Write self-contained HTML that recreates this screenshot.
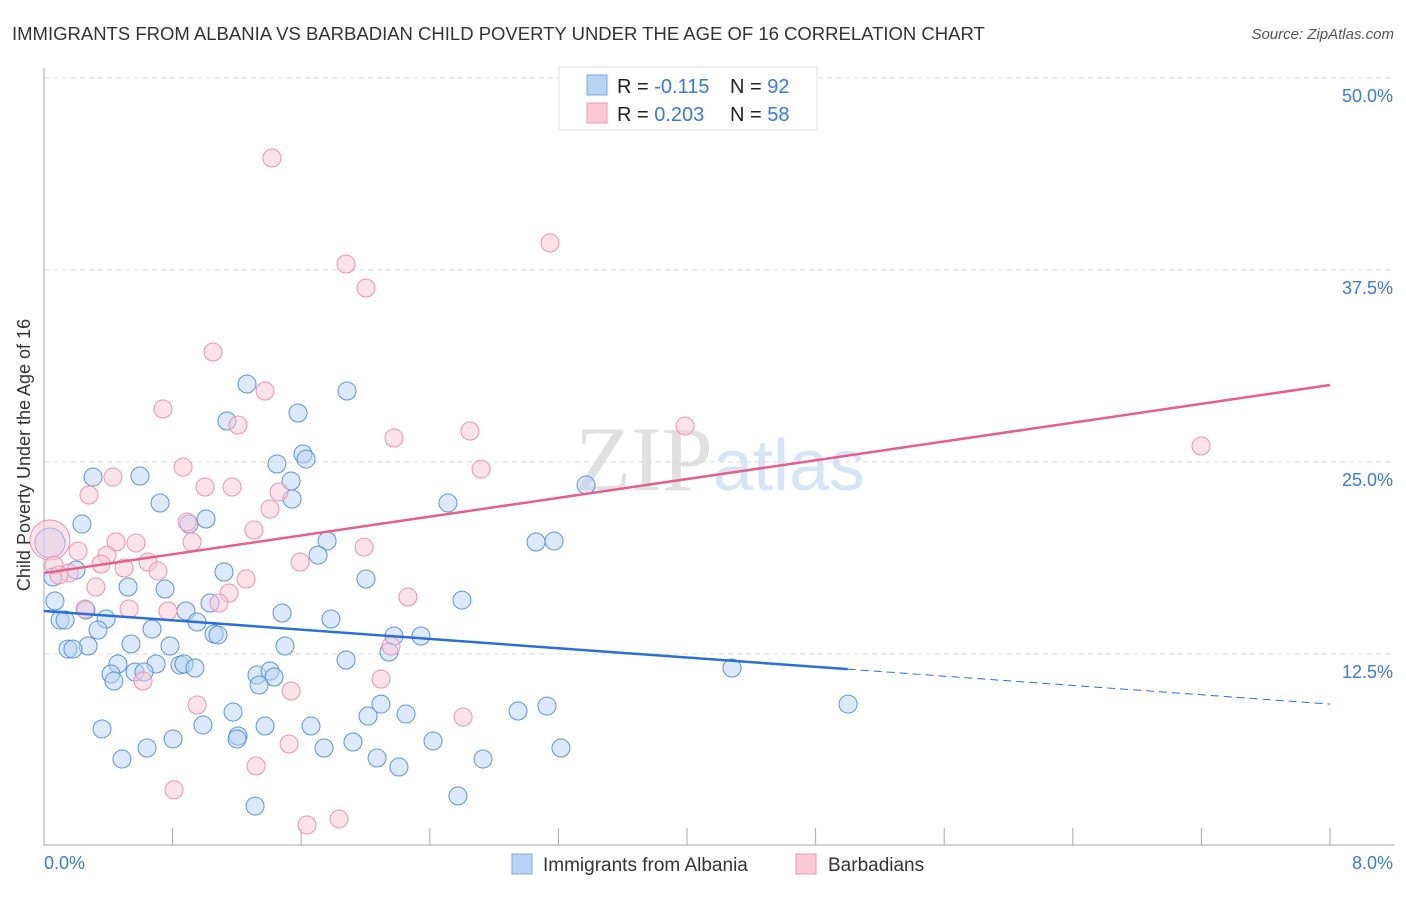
<!DOCTYPE html>
<html><head><meta charset="utf-8"><style>
body{margin:0;background:#fff;font-family:"Liberation Sans",sans-serif;}
svg text{font-family:"Liberation Sans",sans-serif;}
</style></head><body>
<svg id="chart" width="1406" height="892" xmlns="http://www.w3.org/2000/svg">
<text x="12" y="40" font-size="18.5" fill="#333">IMMIGRANTS FROM ALBANIA VS BARBADIAN CHILD POVERTY UNDER THE AGE OF 16 CORRELATION CHART</text>
<text x="1394" y="39" font-size="15" fill="#555" font-style="italic" text-anchor="end">Source: ZipAtlas.com</text>
<text x="720" y="490" font-size="92" fill="#e4e4e4" text-anchor="middle" font-family="Liberation Serif"><tspan font-family="Liberation Serif" fill="#e0e0e0">ZIP</tspan><tspan font-family="Liberation Sans" font-size="72" fill="#d6e4f5">atlas</tspan></text>
<g id="grid"></g>
<g id="axes"></g>
<g id="pts"></g>
<g id="trends"></g>
<text x="30" y="455" font-size="18" fill="#333" text-anchor="middle" transform="rotate(-90 30 455)">Child Poverty Under the Age of 16</text>
<text x="44" y="869" font-size="18" fill="#3b78d8">0.0%</text>
<text x="1393" y="869" font-size="18" fill="#3b78d8" text-anchor="end">8.0%</text>
<g>
<rect x="559" y="67" width="258" height="63" fill="#fff" stroke="#ddd"/>
<rect x="587" y="75" width="20" height="20" fill="#b9d3f5" stroke="#7fa9e3"/>
<rect x="587" y="103" width="20" height="20" fill="#fac8d6" stroke="#ee9ab3"/>
<text x="617" y="93" font-size="20" fill="#222">R = <tspan fill="#3b78d8">-0.115</tspan></text>
<text x="730" y="93" font-size="20" fill="#222">N = <tspan fill="#3b78d8">92</tspan></text>
<text x="617" y="121" font-size="20" fill="#222">R = <tspan fill="#3b78d8">0.203</tspan></text>
<text x="730" y="121" font-size="20" fill="#222">N = <tspan fill="#3b78d8">58</tspan></text>
</g>
<g>
<rect x="512" y="854" width="20" height="20" fill="#b9d3f5" stroke="#7fa9e3"/>
<text x="543" y="871" font-size="19" fill="#333">Immigrants from Albania</text>
<rect x="796" y="854" width="20" height="20" fill="#fac8d6" stroke="#ee9ab3"/>
<text x="828" y="871" font-size="19" fill="#333">Barbadians</text>
</g>
</svg>
<script>
const yTicks=[12.5,25,37.5,50];
const yTickLabels=["12.5%","25.0%","37.5%","50.0%"];
const xTicks=[0,0.8,1.6,2.4,3.2,4.0,4.8,5.6,6.4,7.2,8.0];
const blueX=[1.263,1.885,1.580,1.138,1.611,1.630,1.449,0.305,0.597,1.537,1.543,0.722,2.513,3.372,1.008,0.902,0.236,1.761,3.061,3.173,0.037,1.705,1.120,2.003,0.056,0.199,0.523,0.753,1.033,2.600,0.068,0.883,1.481,0.261,1.785,0.386,0.100,0.131,0.952,0.672,0.336,1.058,1.082,2.177,2.345,0.541,0.784,1.499,0.274,0.149,0.180,2.146,1.879,0.460,0.697,0.846,0.871,0.939,0.417,0.566,0.622,1.325,1.406,1.431,0.435,1.338,4.280,5.002,3.129,2.949,1.176,2.252,2.096,2.016,1.661,1.375,0.989,0.361,0.803,1.207,1.201,1.922,2.420,1.742,0.641,3.216,0.485,2.072,2.731,2.208,1.313,2.575];
const blueY=[30.08,29.62,28.19,27.67,25.52,25.19,24.87,24.02,24.09,23.76,22.59,22.33,22.33,23.50,21.29,20.96,20.96,19.86,19.79,19.86,19.73,18.94,17.84,17.38,17.51,17.97,16.86,16.73,15.82,16.01,15.95,15.30,15.17,15.36,14.78,14.78,14.71,14.71,14.58,14.13,14.06,13.80,13.74,13.67,13.67,13.15,13.02,13.02,13.02,12.82,12.82,12.63,12.11,11.85,11.85,11.78,11.85,11.59,11.20,11.33,11.33,11.13,11.39,11.00,10.74,10.48,11.59,9.24,9.11,8.79,8.72,8.59,9.24,8.46,7.81,7.81,7.88,7.62,6.97,7.16,6.97,6.77,6.84,6.38,6.38,6.38,5.66,5.73,5.66,5.14,2.60,3.26];
const pinkX=[1.418,3.148,1.879,2.003,1.051,1.375,0.740,1.207,2.177,2.650,3.988,7.198,0.865,0.429,2.719,0.280,1.002,1.170,1.462,1.406,0.890,1.306,0.921,0.448,0.572,0.037,0.212,0.392,1.991,1.593,0.647,0.062,0.355,0.498,0.709,1.257,0.156,0.093,0.323,1.151,2.264,1.089,0.255,0.529,0.771,2.159,2.096,0.616,1.537,0.952,2.607,1.524,1.319,0.809,1.835,1.636];
const pinkY=[44.79,39.26,37.89,36.33,32.16,29.62,28.45,27.41,26.56,27.02,27.34,26.04,24.67,24.02,24.54,22.85,23.37,23.37,23.05,21.94,21.09,20.57,19.79,19.79,19.73,19.92,19.20,18.94,19.46,18.49,18.49,18.29,18.36,18.10,17.90,17.38,17.77,17.64,16.86,16.47,16.21,15.82,15.43,15.43,15.30,13.02,10.87,10.74,10.09,9.18,8.40,6.64,5.21,3.65,1.76,1.37];
const blueTrend=[15.30,9.24];
const pinkTrend=[17.77,30.01];
const blueSolidEnd=5.0;

const NS="http://www.w3.org/2000/svg";
const X0=44,X1=1330,Y0=846,PXPER=192/12.5;
function sx(v){return X0+(X1-X0)*v/8;}
function sy(v){return Y0-v*PXPER;}
function mk(tag,attrs,parent){const e=document.createElementNS(NS,tag);for(const k in attrs)e.setAttribute(k,attrs[k]);parent.appendChild(e);return e;}
const grid=document.getElementById('grid'),axes=document.getElementById('axes'),pts=document.getElementById('pts'),tr=document.getElementById('trends');
yTicks.forEach((t,i)=>{
  const l=mk('line',{x1:44,x2:1394,y1:sy(t),y2:sy(t),stroke:'#d8d8d8','stroke-dasharray':'5,4'},grid);
  
  
  const tx=mk('text',{x:1393,y:sy(t)+24,'font-size':18,fill:'#3b78d8','text-anchor':'end'},grid);
  tx.textContent=yTickLabels[i];
  
  
});
const ya=mk('line',{x1:44,x2:44,y1:68,y2:846,stroke:'#aaa'},axes);


const xa=mk('line',{x1:44,x2:1394,y1:845,y2:845,stroke:'#aaa'},axes);


xTicks.forEach(t=>{
  const l=mk('line',{x1:sx(t),x2:sx(t),y1:828,y2:845,stroke:'#aaa'},axes);
  
  
});
function dots(xs,ys,fill,stroke,name){
  xs.forEach((x,i)=>{
    const big=(x<0.06&&Math.abs(ys[i]-19.8)<0.3);
    const c=mk('circle',{cx:sx(x),cy:sy(ys[i]),r:big?(name==='pink-point'?20:15):9,fill:fill,'fill-opacity':0.5,stroke:stroke,'stroke-width':1},pts);
    
    
  });
}
dots(blueX,blueY,'#b9d3f5','#5b93e0','blue-point');
dots(pinkX,pinkY,'#fac8d6','#ee93ae','pink-point');
const bSlope=(blueTrend[1]-blueTrend[0])/8;
const b1=mk('line',{x1:sx(0),y1:sy(blueTrend[0]),x2:sx(blueSolidEnd),y2:sy(blueTrend[0]+bSlope*blueSolidEnd),stroke:'#2a6fd6','stroke-width':2.5},tr);


const b2=mk('line',{x1:sx(blueSolidEnd),y1:sy(blueTrend[0]+bSlope*blueSolidEnd),x2:sx(8),y2:sy(blueTrend[1]),stroke:'#2a6fd6','stroke-width':1,'stroke-dasharray':'8,5'},tr);


const p1=mk('line',{x1:sx(0),y1:sy(pinkTrend[0]),x2:sx(8),y2:sy(pinkTrend[1]),stroke:'#e45f8a','stroke-width':2.5},tr);


</script>
</body></html>
